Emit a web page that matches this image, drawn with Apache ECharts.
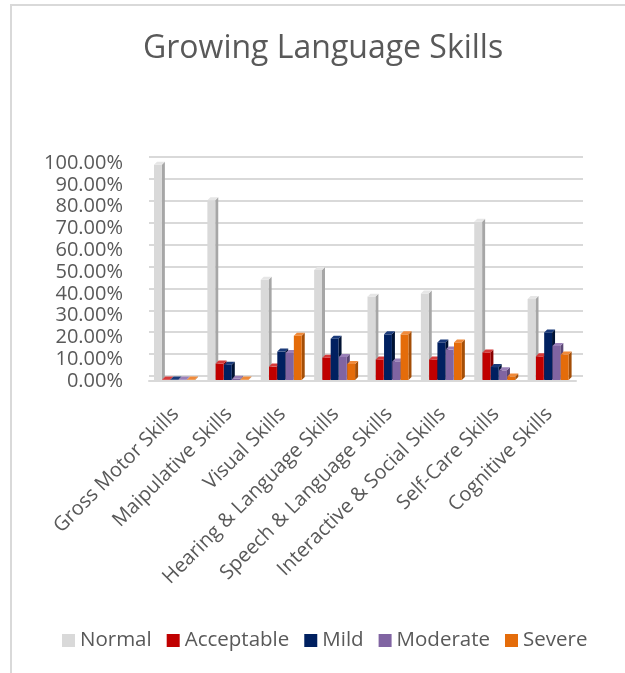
<!DOCTYPE html>
<html>
<head>
<meta charset="utf-8">
<script src="https://cdn.jsdelivr.net/npm/echarts@6/dist/echarts.min.js"></script>
<style>
  html, body { margin: 0; padding: 0; background: #fff; }
  #chart { width: 625px; height: 673px; }
</style>
</head>
<body>
<div id="chart"></div>
<script>
const categories = [
  "Gross Motor Skills",
  "Maipulative Skills",
  "Visual Skills",
  "Hearing & Language Skills",
  "Speech & Language Skills",
  "Interactive & Social Skills",
  "Self-Care Skills",
  "Cognitive Skills",
];
const normal = [99.2, 82.9, 46.4, 50.9, 38.7, 40.1, 73.1, 37.6];
const acceptable = [0.2, 8.0, 6.6, 10.7, 9.9, 9.9, 13.1, 11.3];
const mild = [0.2, 7.5, 13.5, 19.4, 21.4, 17.7, 6.4, 22.3];
const moderate = [0.4, 1.0, 12.9, 11.0, 9.0, 14.4, 4.9, 16.1];
const severe = [0.2, 0.5, 20.8, 7.8, 21.4, 17.7, 2.1, 12.2];
const yTicks = [0, 10, 20, 30, 40, 50, 60, 70, 80, 90, 100];

const seriesDefs = [
  { name: "Normal", data: normal, front: "#d9d9d9", side: "#a6a6a6", top: "#e6e6e6" },
  { name: "Acceptable", data: acceptable, front: "#c00000", side: "#8a0000", top: "#d63a3a" },
  { name: "Mild", data: mild, front: "#002060", side: "#001233", top: "#1a3a7a" },
  { name: "Moderate", data: moderate, front: "#8064a2", side: "#5a4675", top: "#9a80b8" },
  { name: "Severe", data: severe, front: "#e46c0a", side: "#a44e07", top: "#f08a3a" },
];

const textColor = "#595959";
const font = "'Open Sans', 'Noto Sans', sans-serif";

// draws a small 3d box: front face, right side, top
const make3dBar = (idx, def) => (params, api) => {
  const cat = api.value(0);
  const val = api.value(1);
  const base = api.coord([cat, 0]);
  const top = api.coord([cat, val]);
  const band = api.size([1, 0])[0];
  const pitch = band * 0.155;
  const w = pitch - 0.4;
  const d = 3;
  const x = base[0] - pitch * 2.5 - 1 + idx * pitch;
  const yB = base[1] - 1;
  const yT = Math.min(top[1], yB - 0.5);
  return {
    type: "group",
    children: [
      {
        type: "polygon",
        shape: { points: [[x + w, yT], [x + w + d, yT - d], [x + w + d, yB - d], [x + w, yB]] },
        style: { fill: def.side },
      },
      {
        type: "rect",
        shape: { x: x, y: yT, width: w, height: yB - yT },
        style: { fill: def.front },
      },
      {
        type: "polygon",
        shape: { points: [[x, yT], [x + d, yT - d], [x + w + d, yT - d], [x + w, yT]] },
        style: { fill: def.top },
      },
    ],
  };
};

const chart = echarts.init(document.getElementById("chart"));

const option = {
  animation: false,
  backgroundColor: "#fff",
  title: {
    text: "Growing Language Skills",
    left: 138,
    top: 28,
    textStyle: { color: textColor, fontFamily: font, fontSize: 32, fontWeight: "normal" },
  },
  legend: {
    left: 57,
    top: 625,
    icon: "rect",
    itemWidth: 13,
    itemHeight: 13,
    itemGap: 15,
    data: seriesDefs.map((s) => ({ name: s.name, itemStyle: { color: s.front } })),
    textStyle: { color: textColor, fontFamily: font, fontSize: 20.5 },
  },
  graphic: [
    {
      type: "rect",
      shape: { x: 11, y: 5, width: 700, height: 700 },
      style: { fill: "none", stroke: "#d9d9d9", lineWidth: 2 },
      silent: true,
    },
  ],
  grid: [
    { left: 149, right: 49, top: 163, bottom: 292 },
    { left: 149, right: 42, top: 157, bottom: 297 },
  ],
  xAxis: [
    {
      type: "category",
      gridIndex: 0,
      data: categories,
      axisTick: { show: false },
      axisLine: { lineStyle: { color: "#d9d9d9", width: 2 } },
      axisLabel: {
        rotate: 45,
        interval: 0,
        margin: 30,
        color: textColor,
        fontFamily: font,
        fontSize: 20,
      },
    },
    {
      type: "category",
      gridIndex: 1,
      data: categories,
      show: false,
    },
  ],
  yAxis: [
    {
      type: "value",
      gridIndex: 0,
      min: yTicks[0],
      max: yTicks[yTicks.length - 1],
      interval: 10,
      splitLine: { show: false },
      axisLine: { show: false },
      axisTick: { show: false },
      axisLabel: {
        margin: 26,
        color: textColor,
        fontFamily: font,
        fontSize: 20,
        formatter: (v) => v.toFixed(2) + "%",
      },
    },
    {
      type: "value",
      gridIndex: 1,
      min: yTicks[0],
      max: yTicks[yTicks.length - 1],
      interval: 10,
      axisLabel: { show: false },
      axisLine: { show: false },
      axisTick: { show: false },
      splitLine: { lineStyle: { color: "#d9d9d9", width: 2 } },
    },
  ],
  series: seriesDefs.map((def, idx) => ({
    name: def.name,
    type: "custom",
    xAxisIndex: 0,
    yAxisIndex: 0,
    itemStyle: { color: def.front },
    renderItem: make3dBar(idx, def),
    encode: { x: 0, y: 1 },
    data: def.data.map((v, i) => [i, v]),
  })),
};

option && chart.setOption(option);
</script>
</body>
</html>
